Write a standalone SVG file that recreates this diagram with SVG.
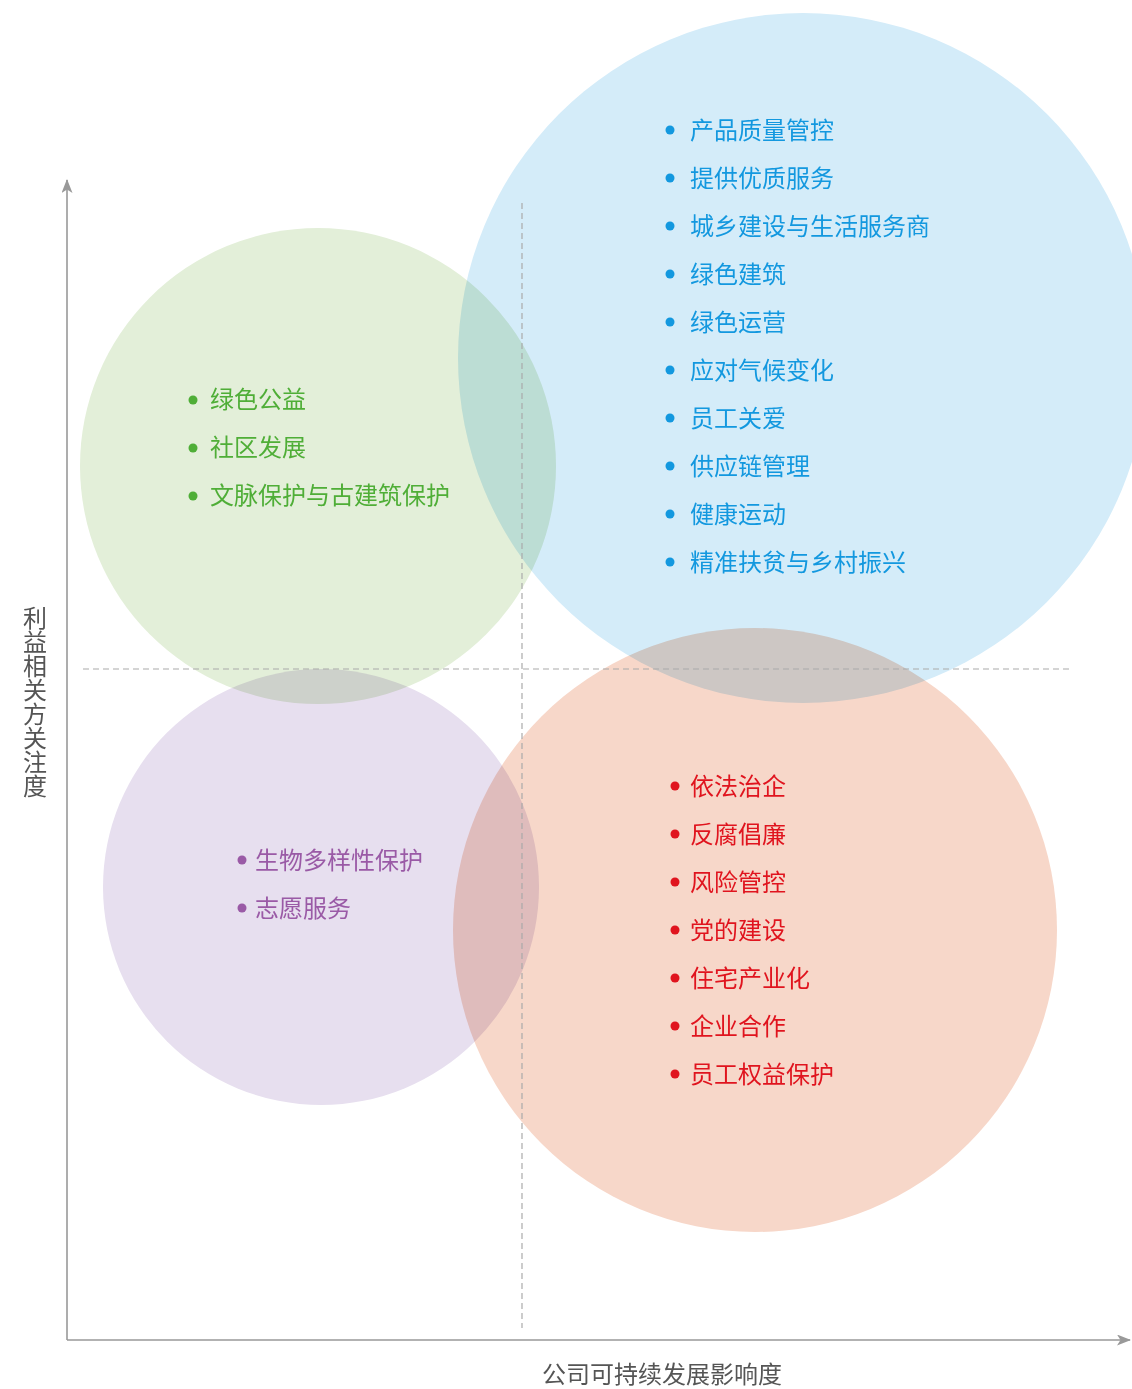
<svg xmlns="http://www.w3.org/2000/svg" width="1132" height="1389" viewBox="0 0 1132 1389">
<style>
.c{mix-blend-mode:multiply}
text{font-family:"Noto Sans CJK SC","Noto Sans",sans-serif;font-size:24px}
.b{fill:#1398df}.g{fill:#4fae37}.p{fill:#9a5aa6}.r{fill:#e0141e}
.ax{stroke:#999;stroke-width:1.6;fill:none}
.d{stroke:#aaa;stroke-width:1.2;stroke-dasharray:6 4;fill:none}
</style>
<defs>
<marker id="ah" viewBox="0 0 14 11" refX="13" refY="5.5" markerWidth="14" markerHeight="11" markerUnits="userSpaceOnUse" orient="auto">
<path d="M0,0 L14,5.5 L0,11 L3.5,5.5 Z" fill="#999"/>
</marker>
</defs>
<rect width="1132" height="1389" fill="#fff"/>
<g id="circles">
<circle id="blue" class="c" cx="803" cy="358" r="345" fill="#d4ecf9"/>
<circle id="green" class="c" cx="318" cy="466" r="238" fill="#e3efd9"/>
<circle id="purple" class="c" cx="321" cy="887" r="218" fill="#e7dfef"/>
<circle id="orange" class="c" cx="755" cy="930" r="302" fill="#f7d7c9"/>
</g>
<g id="connectors">
<path class="ax" d="M67,1340 L67,180" marker-end="url(#ah)"/>
<path class="ax" d="M67,1340 L1130,1340" marker-end="url(#ah)"/>
<path class="d" d="M83,669 L1070,669"/>
<path class="d" d="M522,203 L522,1328"/>
</g>
<g id="blue-items" class="b">
<circle cx="670" cy="130" r="4.5"/><circle cx="670" cy="178" r="4.5"/><circle cx="670" cy="226" r="4.5"/><circle cx="670" cy="274" r="4.5"/><circle cx="670" cy="322" r="4.5"/><circle cx="670" cy="370" r="4.5"/><circle cx="670" cy="418" r="4.5"/><circle cx="670" cy="466" r="4.5"/><circle cx="670" cy="514" r="4.5"/><circle cx="670" cy="562" r="4.5"/>
<text x="690" y="139">产品质量管控</text>
<text x="690" y="187">提供优质服务</text>
<text x="690" y="235">城乡建设与生活服务商</text>
<text x="690" y="283">绿色建筑</text>
<text x="690" y="331">绿色运营</text>
<text x="690" y="379">应对气候变化</text>
<text x="690" y="427">员工关爱</text>
<text x="690" y="475">供应链管理</text>
<text x="690" y="523">健康运动</text>
<text x="690" y="571">精准扶贫与乡村振兴</text>
</g>
<g id="green-items" class="g">
<circle cx="193" cy="400" r="4.5"/><circle cx="193" cy="448" r="4.5"/><circle cx="193" cy="496" r="4.5"/>
<text x="210" y="408">绿色公益</text>
<text x="210" y="456">社区发展</text>
<text x="210" y="504">文脉保护与古建筑保护</text>
</g>
<g id="purple-items" class="p">
<circle cx="242" cy="860" r="4.5"/><circle cx="242" cy="908" r="4.5"/>
<text x="255" y="869">生物多样性保护</text>
<text x="255" y="917">志愿服务</text>
</g>
<g id="red-items" class="r">
<circle cx="675" cy="786" r="4.5"/><circle cx="675" cy="834" r="4.5"/><circle cx="675" cy="882" r="4.5"/><circle cx="675" cy="930" r="4.5"/><circle cx="675" cy="978" r="4.5"/><circle cx="675" cy="1026" r="4.5"/><circle cx="675" cy="1074" r="4.5"/>
<text x="690" y="795">依法治企</text>
<text x="690" y="843">反腐倡廉</text>
<text x="690" y="891">风险管控</text>
<text x="690" y="939">党的建设</text>
<text x="690" y="987">住宅产业化</text>
<text x="690" y="1035">企业合作</text>
<text x="690" y="1083">员工权益保护</text>
</g>
<g id="axis-labels" fill="#555">
<text x="35" y="606" writing-mode="vertical-rl">利益相关方关注度</text>
<text x="662" y="1383" text-anchor="middle">公司可持续发展影响度</text>
</g>
</svg>
